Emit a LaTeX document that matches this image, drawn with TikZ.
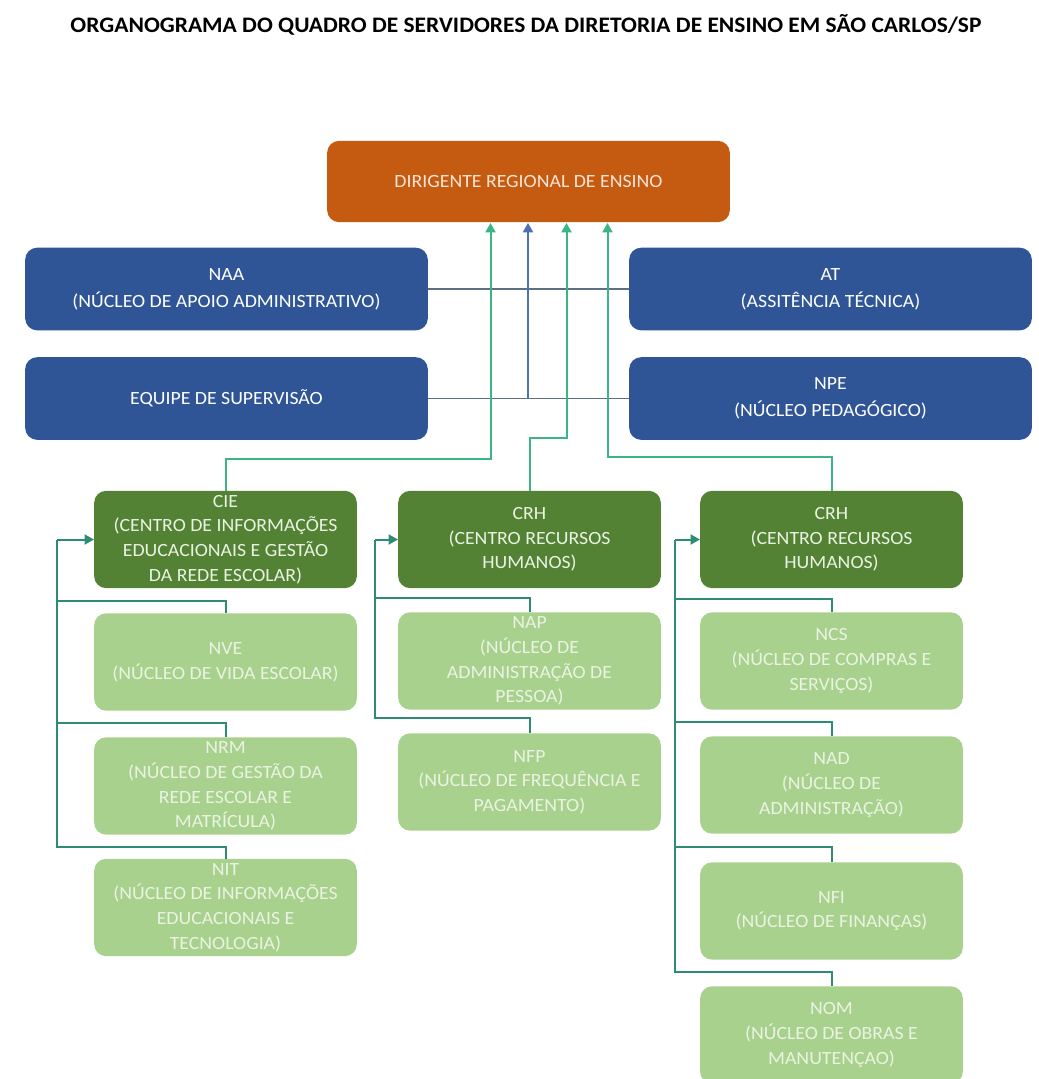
\documentclass[tikz,border=0pt]{standalone}
\usepackage{fontspec}
\setmainfont{Carlito}[FakeStretch=1.06]
\usetikzlibrary{arrows.meta}

\definecolor{laranja}{HTML}{C55A11}
\definecolor{txtlaranja}{HTML}{FBE5D6}
\definecolor{azul}{HTML}{2F5597}
\definecolor{verdeescuro}{HTML}{548235}
\definecolor{verdeclaro}{HTML}{A9D18E}
\definecolor{txtverde}{HTML}{E9F3E2}
\definecolor{linkverde}{HTML}{3BB584}
\definecolor{linkteal}{HTML}{2E8C74}
\definecolor{linkazul}{HTML}{4F6FB8}
\definecolor{linkcinza}{HTML}{5E7080}

\begin{document}
\begin{tikzpicture}[
		  x=0.75pt, y=-0.75pt,
		  every node/.style={font=\fontsize{14}{18.5}\selectfont, align=center}
		]

		\tikzset{
		    caixa/.style={rounded corners=9pt, inner sep=2pt},
		    dirigente/.style={caixa, fill=laranja, text=txtlaranja, minimum width=302pt, minimum height=61pt},
		    azulbox/.style={caixa, fill=azul, text=white, minimum width=302pt, minimum height=62pt, font=\fontsize{14}{20}\selectfont},
		    centro/.style={caixa, fill=verdeescuro, text=txtverde, minimum width=197pt, minimum height=73pt},
		    nucleo/.style={caixa, fill=verdeclaro, text=txtverde, minimum width=197pt, minimum height=73pt},
		    seta/.style={draw=linkverde, line width=1.5pt, -{Triangle[width=7.5pt,length=7pt]}},
		    ligacao/.style={draw=linkteal, line width=1.5pt}
		}

		\path[use as bounding box, clip] (0,0) rectangle (1039,1079);
		\fill[white] (0,0) rectangle (1039,1079);

		% Titulo
		\node[font=\fontsize{16.6}{20}\selectfont\bfseries] (titulo) at (526,25)
		  {ORGANOGRAMA DO QUADRO DE SERVIDORES DA DIRETORIA DE ENSINO EM SÃO CARLOS/SP};

		% Dirigente e assessorias
		\node[dirigente] (DIR) at (528.5,181.5) {DIRIGENTE REGIONAL DE ENSINO};
		\node[azulbox] (NAA) at (226.5,289) {NAA\\(NÚCLEO DE APOIO ADMINISTRATIVO)};
		\node[azulbox] (AT) at (830.5,289) {AT\\(ASSITÊNCIA TÉCNICA)};
		\node[azulbox] (EQ) at (226.5,398.5) {EQUIPE DE SUPERVISÃO};
		\node[azulbox] (NPE) at (830.5,398.5) {NPE\\(NÚCLEO PEDAGÓGICO)};

		% Centros
		\node[centro] (CIE) at (225.5,539.5) {CIE\\(CENTRO DE INFORMAÇÕES\\EDUCACIONAIS E GESTÃO\\DA REDE ESCOLAR)};
		\node[centro] (CRH) at (529.5,539.5) {CRH\\(CENTRO RECURSOS\\HUMANOS)};
		\node[centro] (CRH2) at (831.5,539.5) {CRH\\(CENTRO RECURSOS\\HUMANOS)};

		% Nucleos
		\node[nucleo] (NVE) at (225.5,662) {NVE\\(NÚCLEO DE VIDA ESCOLAR)};
		\node[nucleo] (NRM) at (225.5,786) {NRM\\(NÚCLEO DE GESTÃO DA\\REDE ESCOLAR E\\MATRÍCULA)};
		\node[nucleo] (NIT) at (225.5,907.5) {NIT\\(NÚCLEO DE INFORMAÇÕES\\EDUCACIONAIS E\\TECNOLOGIA)};
		\node[nucleo] (NAP) at (529.5,661) {NAP\\(NÚCLEO DE\\ADMINISTRAÇÃO DE\\PESSOA)};
		\node[nucleo] (NFP) at (529.5,782) {NFP\\(NÚCLEO DE FREQUÊNCIA E\\PAGAMENTO)};
		\node[nucleo] (NCS) at (831.5,661) {NCS\\(NÚCLEO DE COMPRAS E\\SERVIÇOS)};
		\node[nucleo] (NAD) at (831.5,785) {NAD\\(NÚCLEO DE\\ADMINISTRAÇÃO)};
		\node[nucleo] (NFI) at (831.5,911) {NFI\\(NÚCLEO DE FINANÇAS)};
		\node[nucleo] (NOM) at (831.5,1035) {NOM\\(NÚCLEO DE OBRAS E\\MANUTENÇAO)};

		% pontos de chegada no dirigente
		\coordinate (s1) at (490.5,223);
		\coordinate (s2) at (528,223);
		\coordinate (s3) at (566.5,223);
		\coordinate (s4) at (607.5,223);

		% assessorias
		\draw[linkcinza, line width=1.2pt] (NAA.east) -- (AT.west);
		\draw[linkcinza, line width=1.2pt] (EQ.east) -- (NPE.west);
		\coordinate (b2) at (s2 |- EQ.east);
		\draw[seta, draw=linkazul] (b2) -- (s2);

		% centros ate o dirigente
		\draw[seta] (CIE.north) -- ++(0,-32) -| (s1);
		\draw[seta] (CRH.north) -- ++(0,-53) -| (s3);
		\draw[seta] (CRH2.north) -- ++(0,-34) -| (s4);

		% nucleos ate os centros
		\coordinate (l1) at (57,539.5);
		\coordinate (l2) at (375,539.5);
		\coordinate (l3) at (675,539.5);

		\draw[ligacao] (NVE.north) -- ++(0,-12) -| (l1);
		\draw[ligacao] (NRM.north) -- ++(0,-14) -| (l1);
		\draw[ligacao] (NIT.north) -- ++(0,-12) -| (l1);
		\draw[ligacao] (NAP.north) -- ++(0,-14) -| (l2);
		\draw[ligacao] (NFP.north) -- ++(0,-15) -| (l2);
		\draw[ligacao] (NCS.north) -- ++(0,-13) -| (l3);
		\draw[ligacao] (NAD.north) -- ++(0,-14) -| (l3);
		\draw[ligacao] (NFI.north) -- ++(0,-15) -| (l3);
		\draw[ligacao] (NOM.north) -- ++(0,-14) -| (l3);

		% setas
		\draw[seta, draw=linkteal] (l1) -- (CIE.west);
		\draw[seta, draw=linkteal] (l2) -- (CRH.west);
		\draw[seta, draw=linkteal] (l3) -- (CRH2.west);

		\end{tikzpicture}
\end{document}
